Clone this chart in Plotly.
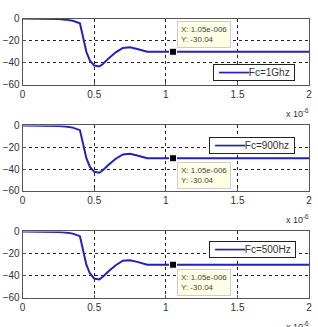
import plotly.graph_objects as go

# data (x in units of 1e-6 s)
x_vals = [0, 0.2, 0.25, 0.3, 0.35, 0.4, 0.42, 0.445, 0.47, 0.5, 0.535, 0.56, 0.6, 0.65, 0.7, 0.75, 0.8, 0.87, 0.95, 1.05, 1.5, 2.0]
y_vals = [0, 0, -0.5, -1, -2, -4.3, -16, -30, -38, -42.5, -43.3, -41, -36, -30.5, -26.5, -26, -27.5, -30, -30.04, -30.04, -30.04, -30.04]
tip_x = 1.05
tip_y = -30.04
labels = ["Fc=1Ghz", "Fc=900hz", "Fc=500Hz"]
x_ticks = [0, 0.5, 1, 1.5, 2]
x_tick_text = ["0", "0.5", "1", "1.5", "2"]
y_ticks = [0, -20, -40, -60]

W, H = 318, 327
def py(p):
    return 1 - p / H

LINE_COLOR = "#2323b8"
domains = [(py(82), py(13)), (py(192), py(124)), (py(303), py(234))]
legend_pos = [(298, 60), (298, 136), (299, 244)]  # right, top in px

fig = go.Figure()
FAM = "Liberation Sans, Arial, sans-serif"
font = dict(family=FAM, size=10, color="#333333")

for i in range(3):
    n = "" if i == 0 else str(i + 1)
    xa = "x" + n
    ya = "y" + n
    fig.add_trace(go.Scatter(x=x_vals, y=y_vals, mode="lines", name=labels[i],
                             line=dict(color=LINE_COLOR, width=2),
                             xaxis=xa, yaxis=ya, showlegend=False))
    fig.add_trace(go.Scatter(x=[tip_x], y=[tip_y], mode="markers",
                             marker=dict(symbol="square", size=7, color="black",
                                         line=dict(color="white", width=1)),
                             xaxis=xa, yaxis=ya, showlegend=False))
    axis_common = dict(showline=True, linecolor="#555555", linewidth=1, mirror=True,
                       ticks="inside", ticklen=3, tickcolor="#555555",
                       showgrid=True, griddash="dot", gridcolor="#222222", gridwidth=1,
                       zeroline=False, tickfont=font)
    fig.layout["xaxis" + n] = dict(domain=[20 / W, 312 / W], range=[0, 2],
                                   tickvals=x_ticks, ticktext=x_tick_text,
                                   anchor=ya, **axis_common)
    fig.layout["yaxis" + n] = dict(domain=list(domains[i]), range=[-60, 0],
                                   tickvals=y_ticks, anchor=xa, **axis_common)
    r, t = legend_pos[i]
    # legend box
    fig.add_annotation(x=r / W, y=py(t), xref="paper", yref="paper",
                       xanchor="right", yanchor="top", showarrow=False,
                       text=f" <span style='color:{LINE_COLOR}'>━━━━━</span>{labels[i]} ",
                       bgcolor="white", bordercolor="#222222", borderwidth=1, borderpad=2,
                       font=dict(family=FAM, size=10, color="#333333"))
    above = (i == 0)
    fig.add_annotation(x=tip_x, y=tip_y, xref=xa, yref=ya,
                       text="X: 1.05e-006<br>Y: -30.04", showarrow=False,
                       xanchor="left", yanchor="bottom" if above else "top",
                       xshift=4, yshift=4 if above else -4, align="left",
                       bgcolor="#ffffe6", bordercolor="#cccccc", borderwidth=1, borderpad=3,
                       font=dict(family=FAM, size=8, color="#444444"))
    fig.add_annotation(x=1, y=0, xref=xa + " domain", yref=ya + " domain",
                       text="x 10<sup>-6</sup>", showarrow=False,
                       xanchor="right", yanchor="top", yshift=-20, xshift=2,
                       font=dict(family=FAM, size=9, color="#333333"))

fig.update_layout(width=W, height=H, margin=dict(l=0, r=0, t=0, b=0),
                  paper_bgcolor="white", plot_bgcolor="white")
fig.write_html("out.html")
